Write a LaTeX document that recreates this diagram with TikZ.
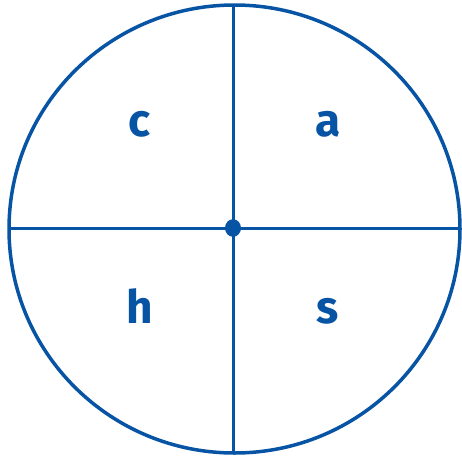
\documentclass[tikz,border=0pt]{standalone}
\usepackage{fontspec}
\setmainfont{Fira Sans}
\definecolor{dblue}{RGB}{8,84,164}
\begin{document}
\begin{tikzpicture}[x=1pt,y=-1pt,
  rim/.style={draw=dblue,line width=3.5pt},
  axis/.style={draw=dblue,line width=3pt},
  letter/.style={text=dblue,anchor=base,inner sep=0pt,font=\fontsize{46}{46}\selectfont\bfseries}]
\useasboundingbox (0,0) rectangle (462,458);
\coordinate (O) at (233,228);
\coordinate (L) at (9,228);
\coordinate (R) at (460,228);
\coordinate (T) at (233,5);
\coordinate (B) at (233,453);
\draw[rim] (234.5,229) ellipse [x radius=225.5, y radius=224];
\draw[axis] (L) -- (R);
\draw[axis] (T) -- (B);
\fill[dblue] (O) ellipse [x radius=8, y radius=8.8];
\node[letter] (c) at (140,136) {c};
\node[letter] (a) at (328,136) {a};
\node[letter] (h) at (139.5,323) {h};
\node[letter] (s) at (328,323) {s};
\end{tikzpicture}
\end{document}
